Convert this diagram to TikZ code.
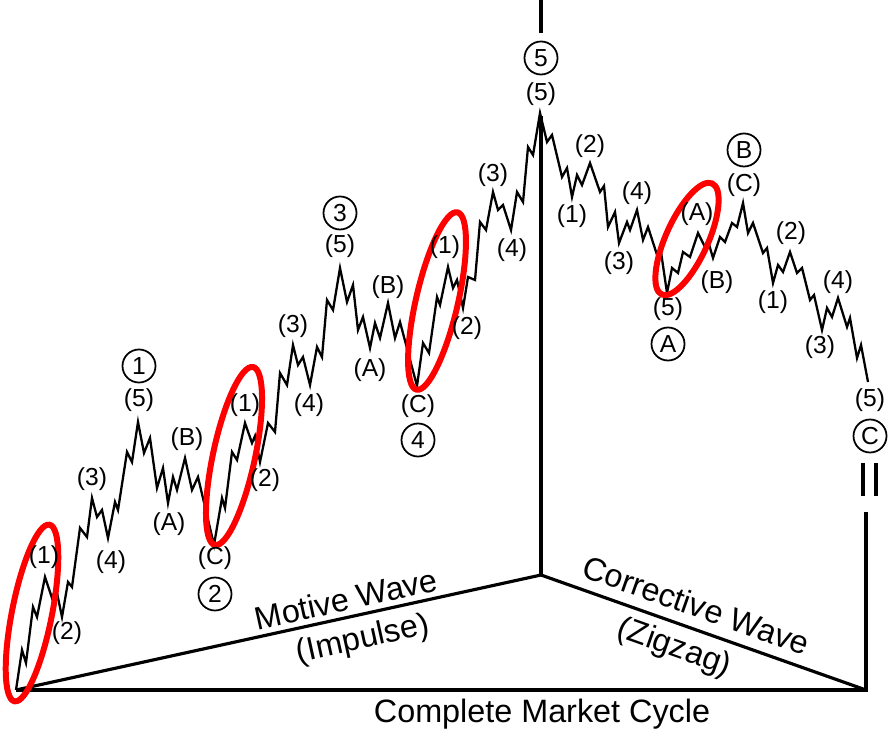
\documentclass[tikz,border=0pt]{standalone}
\usepackage{fontspec}
\setmainfont{Liberation Sans}

\begin{document}
\begin{tikzpicture}[x = 0.01cm, y = -0.01cm,
                        wave/.style = {line width = 0.65pt, line join = miter},
                        frame/.style = {line width = 0.9pt},
                        ring/.style = {draw = red, line width = 1.7pt},
                        lbl/.style = {inner sep = 0pt, font = \fontsize{7}{8}\selectfont},
                        big/.style = {inner sep = 0pt, font = \fontsize{9.2}{10}\selectfont},
                        circ/.style = {circle, draw, line width = 0.5pt, inner sep = 0pt,
                                       minimum size = 0.33cm, font = \fontsize{7}{8}\selectfont}]
      \useasboundingbox (0, 0) rectangle (889, 734);
      % frame
      \coordinate (o) at (16, 690);
      \coordinate (apex) at (541, 575);
      \coordinate (r) at (866, 690);
      \coordinate (peak) at (541, 116);
      \coordinate (rtop) at (866, 512);
      \coordinate (t1) at (541, 0);
      \coordinate (t2) at (541, 33);
      \draw [frame] (o) -- (r) -- (rtop);
      \draw [frame] (o) -- (apex) -- (r);
      \draw [frame] (apex) -- (peak);
      \draw [line width = 1.2pt] (t1) -- (t2);
      \draw [line width = 1.4pt] (863, 463) -- (863, 496);
      \draw [line width = 1.4pt] (876, 463) -- (876, 496);
      % the wave
      \draw [wave] (16, 690) -- (22, 650) -- (26, 663) -- (33, 607) -- (37, 617) -- (45, 577)
        -- (52, 598) -- (56, 588) -- (62, 617)
        -- (68, 582) -- (72, 587) -- (80, 528) -- (87, 537) -- (92, 498)
        -- (97, 517) -- (102, 510) -- (108, 538)
        -- (115, 502) -- (118, 510) -- (127, 452) -- (132, 462) -- (138, 422)
        -- (144, 453) -- (150, 438) -- (157, 488) -- (163, 468) -- (168, 503)
        -- (173, 477) -- (177, 490) -- (185, 458)
        -- (192, 490) -- (198, 477) -- (214, 545)
        -- (222, 498) -- (225, 508) -- (232, 452) -- (237, 460) -- (245, 423)
        -- (252, 443) -- (255, 436) -- (260, 462)
        -- (268, 423) -- (275, 432) -- (280, 373) -- (287, 385) -- (293, 345)
        -- (298, 365) -- (303, 357) -- (310, 385)
        -- (317, 347) -- (322, 357) -- (327, 300) -- (333, 310) -- (340, 268)
        -- (347, 302) -- (353, 285) -- (358, 330) -- (363, 317) -- (370, 348)
        -- (375, 323) -- (380, 338) -- (388, 303)
        -- (395, 338) -- (400, 322) -- (417, 386)
        -- (423, 343) -- (429, 353) -- (437, 297) -- (440, 305) -- (448, 267)
        -- (453, 288) -- (457, 280) -- (463, 308)
        -- (468, 277) -- (475, 280) -- (480, 222) -- (486, 230) -- (493, 192)
        -- (498, 210) -- (503, 205) -- (511, 230)
        -- (517, 192) -- (523, 202) -- (528, 147) -- (533, 155) -- (540, 113)
        -- (547, 142) -- (552, 135) -- (562, 177) -- (567, 168) -- (572, 197)
        -- (577, 175) -- (582, 185) -- (590, 163)
        -- (600, 192) -- (604, 186) -- (608, 227) -- (615, 212) -- (619, 243)
        -- (627, 222) -- (630, 230) -- (637, 210)
        -- (643, 240) -- (648, 227) -- (658, 258) -- (661, 252) -- (667, 293)
        -- (672, 268) -- (678, 273) -- (683, 252) -- (690, 257) -- (698, 233)
        -- (705, 247) -- (708, 241) -- (713, 258)
        -- (720, 237) -- (725, 242) -- (732, 223) -- (737, 227) -- (743, 203)
        -- (748, 233) -- (753, 223) -- (763, 253) -- (767, 248) -- (773, 283)
        -- (778, 265) -- (783, 272) -- (790, 252)
        -- (797, 273) -- (802, 268) -- (810, 300) -- (814, 295) -- (822, 330)
        -- (827, 308) -- (832, 317) -- (838, 298)
        -- (847, 327) -- (850, 318) -- (857, 358) -- (861, 345) -- (868, 382);
      % red rings
      \draw [ring, rotate around = {-11.2:(32, 613)}] (32, 613) ellipse [x radius = 20, y radius = 90];
      \draw [ring, rotate around = {-12.1:(234, 456)}] (234, 456) ellipse [x radius = 21, y radius = 91];
      \draw [ring, rotate around = {-13:(437, 301)}] (437, 301) ellipse [x radius = 21, y radius = 91];
      \draw [ring, rotate around = {-24.4:(687, 239)}] (687, 239) ellipse [x radius = 21, y radius = 61];
      % wave labels
      \node [lbl] (a1) at (44, 557) {(1)};
      \node [lbl] (a2) at (67, 633) {(2)};
      \node [lbl] (a3) at (92, 479) {(3)};
      \node [lbl] (a4) at (111, 562) {(4)};
      \node [lbl] (a5) at (139, 400) {(5)};
      \node [circ] (w1) at (139, 366) {1};
      \node [lbl] (aA) at (169, 524) {(A)};
      \node [lbl] (aB) at (187, 439) {(B)};
      \node [lbl] (aC) at (215, 558) {(C)};
      \node [circ] (w2) at (215, 594) {2};
      \node [lbl] (b1) at (245, 405) {(1)};
      \node [lbl] (b2) at (265, 480) {(2)};
      \node [lbl] (b3) at (293, 326) {(3)};
      \node [lbl] (b4) at (309, 405) {(4)};
      \node [lbl] (b5) at (340, 246) {(5)};
      \node [circ] (w3) at (340, 213) {3};
      \node [lbl] (bA) at (370, 370) {(A)};
      \node [lbl] (bB) at (388, 287) {(B)};
      \node [lbl] (bC) at (418, 406) {(C)};
      \node [circ] (w4) at (418, 440) {4};
      \node [lbl] (c1) at (445, 247) {(1)};
      \node [lbl] (c2) at (467, 328) {(2)};
      \node [lbl] (c3) at (493, 175) {(3)};
      \node [lbl] (c4) at (512, 250) {(4)};
      \node [lbl] (c5) at (541, 94) {(5)};
      \node [circ] (w5) at (541, 58) {5};
      \node [lbl] (d1) at (572, 216) {(1)};
      \node [lbl] (d2) at (590, 146) {(2)};
      \node [lbl] (d3) at (619, 263) {(3)};
      \node [lbl] (d4) at (637, 193) {(4)};
      \node [lbl] (d5) at (668, 309) {(5)};
      \node [circ] (wA) at (668, 344) {A};
      \node [lbl] (eA) at (697, 214) {(A)};
      \node [lbl] (eB) at (717, 282) {(B)};
      \node [lbl] (eC) at (744, 185) {(C)};
      \node [circ] (wB) at (744, 150) {B};
      \node [lbl] (f1) at (773, 302) {(1)};
      \node [lbl] (f2) at (791, 233) {(2)};
      \node [lbl] (f3) at (820, 347) {(3)};
      \node [lbl] (f4) at (838, 282) {(4)};
      \node [lbl] (f5) at (870, 400) {(5)};
      \node [circ] (wC) at (870, 436) {C};
      % captions
      \node [big, rotate = 12.4] (mot) at (346, 599) {Motive Wave};
      \node [big, rotate = 12.4] (imp) at (363, 640) {(Impulse)};
      \node [big, rotate = -19.5] (cor) at (696, 605) {Corrective Wave};
      \node [big, rotate = -19.5] (zig) at (674, 648) {(Zigzag)};
      \node [big] (cyc) at (542, 714) {Complete Market Cycle};
    \end{tikzpicture}
\end{document}
